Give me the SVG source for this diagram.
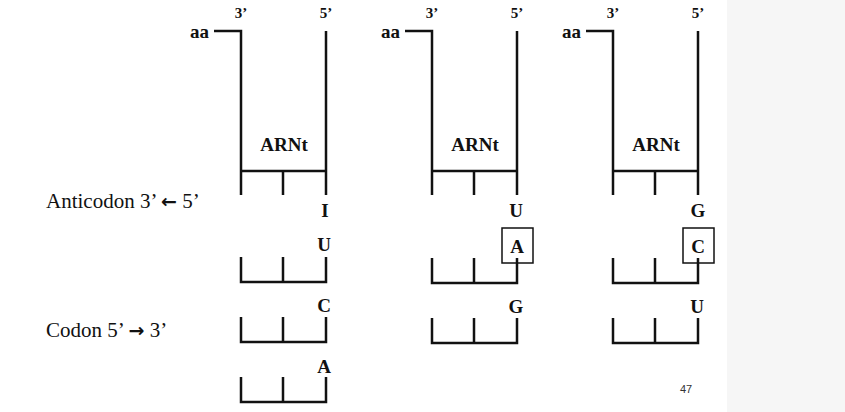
<svg xmlns="http://www.w3.org/2000/svg" width="845" height="412" viewBox="0 0 845 412">
<style>
.l{stroke:#111;stroke-width:2.5;fill:none}
.b{font-family:"Liberation Serif",serif;font-weight:bold;font-size:19px;fill:#111;text-anchor:middle}
.s{font-family:"Liberation Serif",serif;font-weight:bold;font-size:15px;fill:#111;text-anchor:middle}
.t{font-family:"Liberation Serif",serif;font-size:21px;fill:#111}
.a{font-family:"DejaVu Sans",sans-serif;font-weight:bold;font-size:19px}
</style>
<defs>
<g id="trna"><path class="l" d="M-27 31H0V195M85 31V195M0 171H85M42 171V195"/>
<text class="s" x="0" y="18">3’</text><text class="s" x="85" y="18">5’</text>
<text class="b" x="43" y="151">ARNt</text></g>
<path id="br" class="l" d="M0 0V25H85V0M42 0V25"/>
</defs>
<rect x="0" y="0" width="845" height="412" fill="#fff"/>
<rect x="727" y="0" width="118" height="412" fill="#f6f6f6"/>
<g id="trna1" transform="translate(241,0)"><use href="#trna"/><text class="b" style="text-anchor:end" x="-32" y="38">aa</text></g>
<g id="trna2" transform="translate(432,0)"><use href="#trna"/><text class="b" style="text-anchor:end" x="-32" y="38">aa</text></g>
<g id="trna3" transform="translate(613,0)"><use href="#trna"/><text class="b" style="text-anchor:end" x="-32" y="38">aa</text></g>
<g id="codons">
<use href="#br" x="241" y="257"/><use href="#br" x="241" y="317"/><use href="#br" x="241" y="377"/>
<use href="#br" x="432" y="258"/><use href="#br" x="432" y="318"/>
<use href="#br" x="613" y="258"/><use href="#br" x="613" y="318"/>
<rect x="502" y="228" width="31" height="35" fill="none" stroke="#111" stroke-width="1.5"/>
<rect x="683" y="228" width="31" height="35" fill="none" stroke="#111" stroke-width="1.5"/>
</g>
<g id="letters">
<text class="b" x="325" y="217">I</text><text class="b" x="324" y="251">U</text><text class="b" x="324" y="312">C</text><text class="b" x="324" y="373">A</text>
<text class="b" x="516" y="217">U</text><text class="b" x="517" y="253">A</text><text class="b" x="516" y="313">G</text>
<text class="b" x="698" y="217">G</text><text class="b" x="698" y="253">C</text><text class="b" x="697" y="313">U</text>
</g>
<text class="t" x="46" y="208">Anticodon 3’ <tspan class="a">←</tspan> 5’</text>
<text class="t" x="46" y="337">Codon 5’ <tspan class="a">→</tspan> 3’</text>
<text x="680" y="393" style="font-family:'Liberation Sans',sans-serif;font-size:11px;fill:#333">47</text>
</svg>
